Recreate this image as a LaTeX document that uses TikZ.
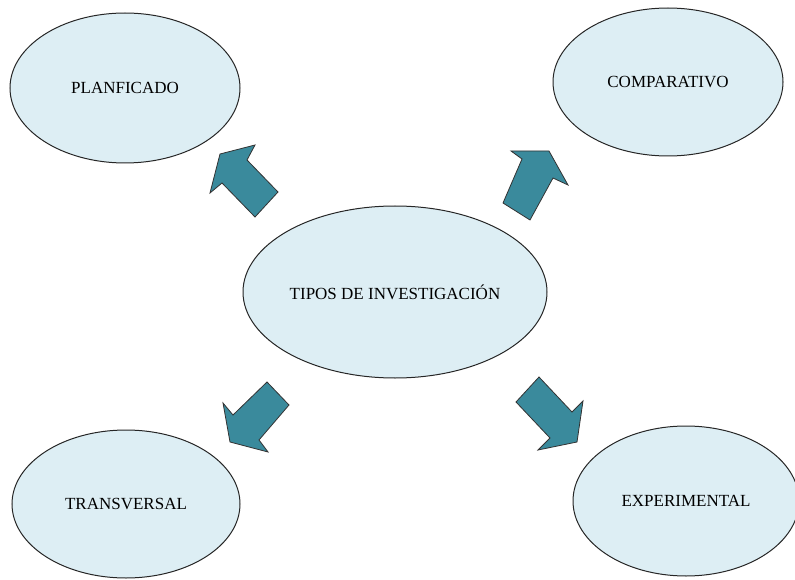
\documentclass[tikz,border=0pt]{standalone}
\usepackage{fontspec}
\setmainfont{Liberation Serif}
\usetikzlibrary{shapes.geometric}
\definecolor{bubble}{RGB}{221,238,244}
\definecolor{arrowteal}{RGB}{58,138,156}
\begin{document}
\begin{tikzpicture}[x=1pt,y=-1pt,
  topic/.style={ellipse, draw=black!85, line width=1pt, fill=bubble,
    inner sep=0pt, font=\fontsize{17}{20}\selectfont},
  blockarrow/.style={draw=black!80, line width=0.8pt, fill=arrowteal, line join=miter}]
\useasboundingbox (0,0) rectangle (795,580);

% central topic and the four kinds around it
\node[topic, minimum width=304pt, minimum height=172pt] (tipos) at (395,292) {TIPOS DE INVESTIGACIÓN};
\node[topic, minimum width=230pt, minimum height=150pt] (plan)  at (125,88)  {PLANFICADO};
\node[topic, minimum width=230pt, minimum height=148pt] (comp)  at (668,82)  {COMPARATIVO};
\node[topic, minimum width=228pt, minimum height=148pt] (trans) at (126,504) {TRANSVERSAL};
\node[topic, minimum width=226pt, minimum height=150pt] (exper) at (686,501) {EXPERIMENTAL};

% block arrows pointing outwards from the centre
\draw[blockarrow] (220,154) -- (255,145) -- (247,160) -- (278,192) -- (255,217) -- (222,183) -- (210,193) -- cycle;
\draw[blockarrow] (549,151) -- (568,185) -- (553,178) -- (530,220) -- (503,203) -- (522,159) -- (511,151) -- cycle;
\draw[blockarrow] (230,442) -- (223,403) -- (233,415) -- (267,382) -- (289,405) -- (259,440) -- (268,452) -- cycle;
\draw[blockarrow] (577,442) -- (538,450) -- (550,438) -- (516,402) -- (539,377) -- (572,412) -- (583,401) -- cycle;
\end{tikzpicture}
\end{document}
